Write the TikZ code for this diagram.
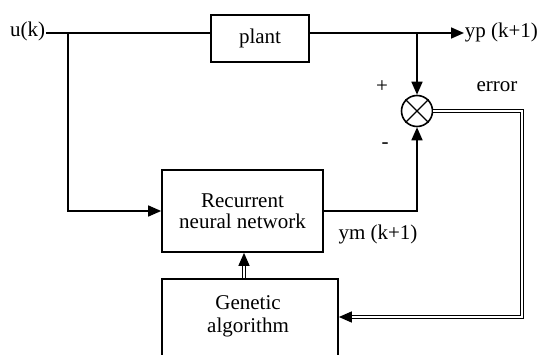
\documentclass[tikz,border=0pt]{standalone}
\usepackage{fontspec}
\setmainfont{Liberation Serif}
\usetikzlibrary{arrows.meta,calc}
\begin{document}
\begin{tikzpicture}[x=1pt,y=-1pt,
    font=\fontsize{21}{25}\selectfont,
    line width=1.6pt,
    blk/.style={draw,line width=1.7pt,inner sep=0pt,align=center},
    lbl/.style={inner sep=0pt,align=center},
    tip/.style={-{Triangle[length=13pt,width=11pt]}},
    dbl/.style={double,double distance=1.3pt,line width=1.4pt},
  ]
  % canvas
  \clip (0,0) rectangle (543,355);
  \fill[white] (0,0) rectangle (543,355);

  % blocks
  \node[blk,minimum width=98,minimum height=47] (plant) at (260,38.5) {plant};
  \node[blk,minimum width=161,minimum height=82] (rnn) at (242.5,211) {Recurrent\\[-4pt]neural network};
  \node[blk,minimum width=176,minimum height=110,anchor=north] (ga) at (250,278) {};
  \node[lbl] (gatext) at (248,316) {Genetic\\[-2pt]algorithm};
  \node[draw,circle,line width=1.6pt,minimum size=31,inner sep=0pt] (sum) at (417,111) {};
  \draw[line width=1.3pt] (sum.north east) -- (sum.south west)
                          (sum.north west) -- (sum.south east);

  % signal labels
  \node[lbl,anchor=east] (uk) at (46,31) {u(k)};
  \node[lbl,anchor=west] (yp) at (464,32) {yp (k+1)};
  \node[lbl] (ym) at (378,234) {ym (k+1)};
  \node[lbl] (plus) at (382,87) {+};
  \node[lbl] (minus) at (385,146) {-};
  \node[lbl] (err) at (497,87) {error};

  % connection points
  \coordinate (split) at (68,33);
  \coordinate (tap) at (417,33);
  \coordinate (ecorner) at (522,317);

  % signal paths
  \draw (uk.east |- split) -- (split -| plant.west);
  \draw[tip] (split) |- (rnn.west);
  \draw[tip] (plant.east |- tap) -- (yp.west |- tap);
  \draw[tip] (tap) -- (sum.north);
  \draw[tip] (rnn.east) -| (sum.south);

  % error feedback and parameter update (double lines)
  \draw[dbl,tip] (sum.east) -| (ecorner) -- (ecorner -| ga.east);
  \draw[dbl,tip] (ga.north -| 244,0) -- (rnn.south -| 244,0);
\end{tikzpicture}
\end{document}
